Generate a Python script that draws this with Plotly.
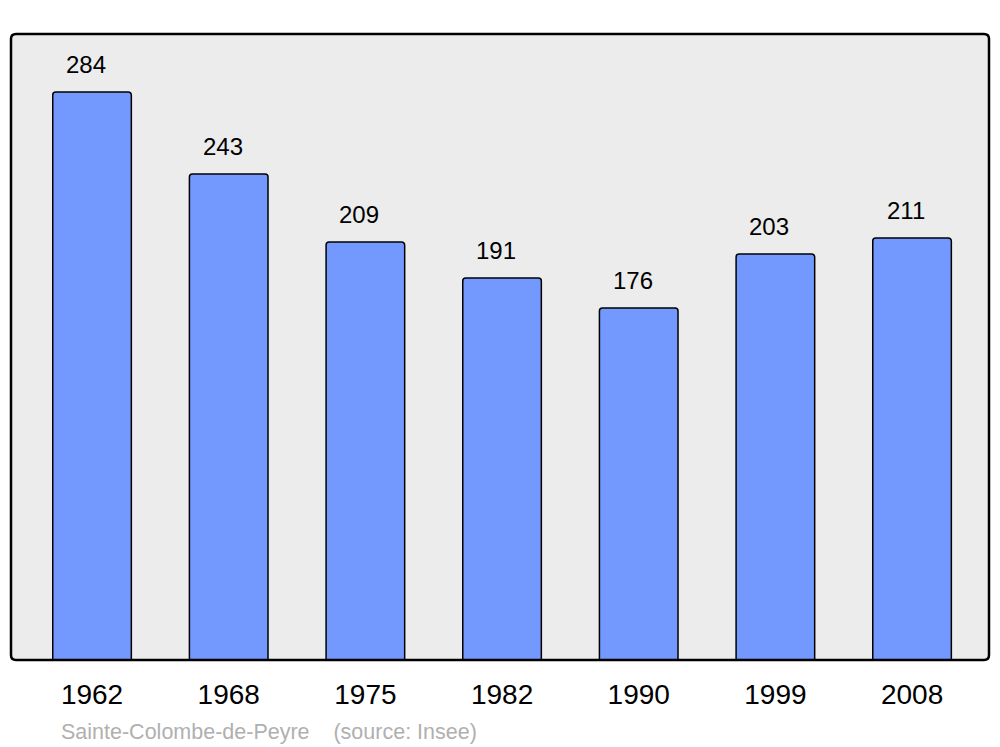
import plotly.graph_objects as go

YEARS = ["1962", "1968", "1975", "1982", "1990", "1999", "2008"]
POPULATION = [284, 243, 209, 191, 176, 203, 211]
CAPTION = "Sainte-Colombe-de-Peyre    (source: Insee)"

BAR_COLOR = "#7399ff"
PLOT_BG = "#ececec"

x_pos = list(range(len(YEARS)))

fig = go.Figure()
fig.add_trace(
    go.Bar(
        x=x_pos,
        y=POPULATION,
        width=0.575,
        marker=dict(color=BAR_COLOR, line=dict(color="black", width=1.5), cornerradius=3),
        hoverinfo="skip",
    )
)

for x, v in zip(x_pos, POPULATION):
    fig.add_annotation(
        x=x, y=v, text=str(v), showarrow=False,
        yanchor="bottom", yshift=12, xshift=-6,
        font=dict(size=24, color="black"),
    )

fig.add_annotation(
    xref="paper", yref="paper", x=0.049, y=-0.092,
    xanchor="left", yanchor="top", text=CAPTION, showarrow=False,
    font=dict(size=21.5, color="#b0b0b0"),
)

# rounded plot frame
rx, ry = 5 / 978, 5 / 626
frame = (
    f"M {rx},0 L {1 - rx},0 Q 1,0 1,{ry} L 1,{1 - ry} Q 1,1 {1 - rx},1 "
    f"L {rx},1 Q 0,1 0,{1 - ry} L 0,{ry} Q 0,0 {rx},0 Z"
)
fig.add_shape(type="path", xref="paper", yref="paper", path=frame,
              line=dict(color="black", width=2.5), layer="above")

fig.update_layout(
    width=1000,
    height=747,
    margin=dict(l=11, r=11, t=34, b=87),
    paper_bgcolor="white",
    plot_bgcolor=PLOT_BG,
    showlegend=False,
    font=dict(family="Liberation Sans, Arial, sans-serif"),
)
fig.update_xaxes(
    range=[-0.593, 6.563],
    tickmode="array",
    tickvals=x_pos,
    ticktext=YEARS,
    tickfont=dict(size=28, color="black"),
    showgrid=False,
    zeroline=False,
    ticks="",
    ticklabelstandoff=15,
)
fig.update_yaxes(range=[0, 313], visible=False, showgrid=False)

fig.write_html("out.html", config={"displayModeBar": False},
               post_script="document.body.style.margin='0';")
